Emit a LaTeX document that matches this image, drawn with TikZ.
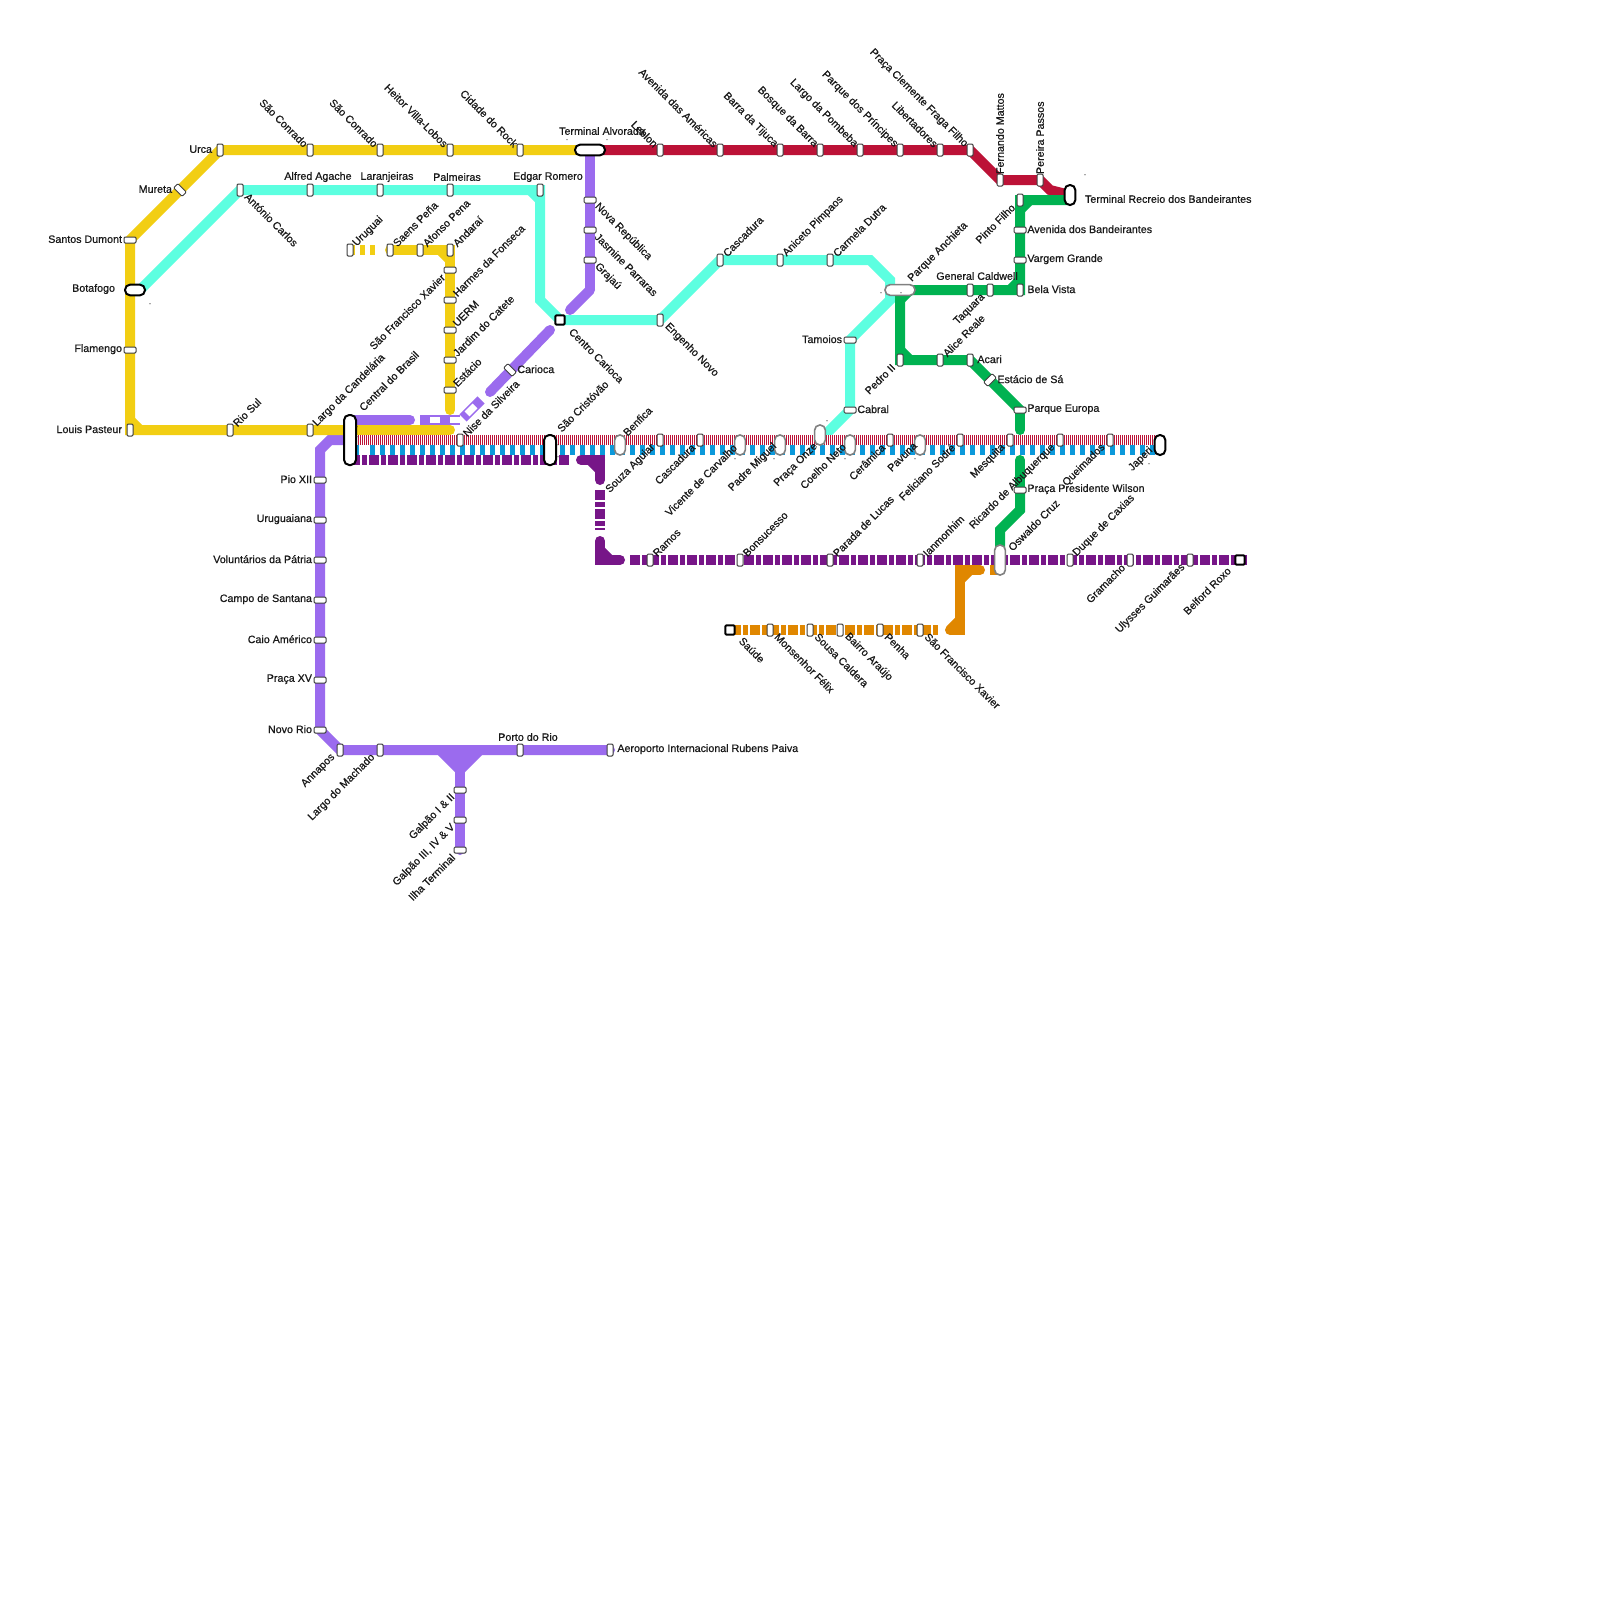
\documentclass[tikz,border=0pt]{standalone}
\usepackage{fontspec}
\newfontfamily\lf[FakeBold=0.6]{Liberation Sans}
\definecolor{cy}{HTML}{F2CE13}
\definecolor{ca}{HTML}{5CFFE0}
\definecolor{cr}{HTML}{BC1237}
\definecolor{cg}{HTML}{00B251}
\definecolor{cp}{HTML}{9B6BEE}
\definecolor{cd}{HTML}{771688}
\definecolor{co}{HTML}{E08700}
\definecolor{cb}{HTML}{0B99DB}
\pgfdeclarelayer{bg}
\pgfsetlayers{bg,main}
\tikzset{
 stn/.style={draw=black!75,fill=white,line width=.5pt,rounded corners=.6pt,inner sep=0,outer sep=0},
 tick/.style={stn,minimum width=3pt,minimum height=6pt},
 htick/.style={stn,minimum width=6pt,minimum height=3pt},
 dtick/.style={stn,minimum width=3pt,minimum height=6pt,rotate=45},
 etick/.style={stn,minimum width=3pt,minimum height=6pt,rotate=-45},
 pillg/.style={draw=black!50,line width=.8pt,fill=white,inner sep=0,outer sep=0,rounded corners=2.6pt,minimum width=5.4pt,minimum height=10pt},
 pillk/.style={pillg,draw=black,line width=1pt},
 hpillg/.style={pillg,minimum width=15pt,minimum height=5.4pt},
 hpillk/.style={pillk,minimum width=15pt,minimum height=5.4pt},
 sq/.style={draw=black,line width=1pt,fill=white,inner sep=0,outer sep=0,minimum size=4.6pt,rounded corners=.5pt},
 t/.style={font=\lf\fontsize{5.35}{6}\selectfont,inner sep=0,outer sep=0,text=black!90},
 UR/.style={t,xshift=2.4pt,yshift=2.66pt,rotate=45,anchor=west},
 UL/.style={t,xshift=-2pt,yshift=2.3pt,rotate=-45,anchor=east},
 DR/.style={t,xshift=3.3pt,yshift=-2.5pt,rotate=-45,anchor=west},
 DL/.style={t,xshift=-3.4pt,yshift=-2.9pt,rotate=45,anchor=east},
 V/.style={t,yshift=3pt,rotate=90,anchor=west},
 L/.style={t,anchor=east,xshift=-4pt,yshift=.4pt},
 R/.style={t,anchor=west,xshift=3.7pt,yshift=.4pt},
 lin/.style={line width=5pt,line cap=butt,line join=miter},
 rnd/.style={line width=5pt,line cap=round,line join=miter},
 dsh/.style={line width=5pt,dash pattern=on 5pt off 1pt on 2.5pt off 1pt},
 dotl/.style={t,anchor=base,font=\lf\fontsize{3}{3}\selectfont},
}
\newcommand\st[6]{\node[#1] (#2) at (#3,#4) {};\node[#5] (#2-t) at (#2) {#6};}
\begin{document}
\begin{tikzpicture}[x=.5pt,y=-.5pt]
\useasboundingbox (0,0) rectangle (1600,1600);
\begin{pgfonlayer}{bg}
\fill[white] (0,0) rectangle (1600,1600);
\end{pgfonlayer}
% yellow main
\st{tick}{urca}{220}{150}{L}{Urca}
\st{tick}{sc1}{310}{150}{UL}{São Conrado}
\st{tick}{sc2}{380}{150}{UL}{São Conrado}
\st{tick}{hvl}{450}{150}{UL}{Heitor Villa-Lobos}
\st{tick}{cdr}{520}{150}{UL}{Cidade do Rock}
\node[hpillk] (alv) at (590,150) {};
\node[t] (alv-t) at (602,131) {Terminal Alvorada};
\st{dtick}{mur}{180}{190}{L}{Mureta}
\st{htick}{sdu}{130}{240}{L}{Santos Dumont}
\node[hpillk,minimum width=10pt] (bot) at (135,290) {};
\node[t,anchor=east] (bot-t) at (115,289) {Botafogo};
\st{htick}{fla}{130}{350}{L}{Flamengo}
\st{tick}{lpa}{130}{430}{L}{Louis Pasteur}
\st{tick}{rsu}{230}{430}{UR}{Rio Sul}
\st{tick}{lca}{310}{430}{UR}{Largo da Candelária}
\node[pillk,minimum width=6pt,minimum height=25pt] (cen) at (350,440) {};
\node[t,rotate=45,anchor=west] (cen-t) at (361,409) {Central do Brasil};
% aqua
\st{tick}{aca}{240}{190}{DR}{António Carlos}
\node[tick] (aag) at (310,190) {};\node[t] (aag-t) at (318,177) {Alfred Agache};
\node[tick] (lar) at (380,190) {};\node[t] (lar-t) at (387,177) {Laranjeiras};
\node[tick] (pal) at (450,190) {};\node[t] (pal-t) at (457,177) {Palmeiras};
\node[tick] (edg) at (540,190) {};\node[t] (edg-t) at (548,177) {Edgar Romero};
\node[sq] (cca) at (560,320) {};
\node[t,rotate=-45,anchor=west] (cca-t) at (571,330) {Centro Carioca};
\st{tick}{eng}{660}{320}{DR}{Engenho Novo}
\st{tick}{cas}{720}{260}{UR}{Cascadura}
\st{tick}{ani}{780}{260}{UR}{Aniceto Pimpaos}
\st{tick}{car}{830}{260}{UR}{Carmela Dutra}
\node[hpillg] (pan) at (900,290) {};
\node[t,rotate=45,anchor=west] (pan-t) at (910,280) {Parque Anchieta};
\st{htick}{tam}{850}{340}{L}{Tamoios}
\st{htick}{cab}{850}{410}{R}{Cabral}
% yellow branch
\st{tick}{uru}{350}{250}{UR}{Uruguai}
\st{tick}{sae}{390}{250}{UR}{Saens Peña}
\st{tick}{afo}{420}{250}{UR}{Afonso Pena}
\st{tick}{and}{450}{250}{UR}{Andaraí}
\st{htick}{sfx}{450}{270}{DL}{São Francisco Xavier}
\st{htick}{har}{450}{300}{UR}{Harmes da Fonseca}
\st{htick}{uer}{450}{330}{UR}{UERM}
\st{htick}{jar}{450}{360}{UR}{Jardim do Catete}
\st{htick}{est}{450}{390}{UR}{Estácio}
% light purple
\st{htick}{nre}{590}{200}{DR}{Nova República}
\st{htick}{jas}{590}{230}{DR}{Jasmine Parraras}
\st{htick}{gra}{590}{260}{DR}{Grajaú}
\st{dtick}{cri}{510}{370}{R}{Carioca}
\st{htick}{pio}{320}{480}{L}{Pio XII}
\st{htick}{urg}{320}{520}{L}{Uruguaiana}
\st{htick}{vol}{320}{560}{L}{Voluntários da Pátria}
\st{htick}{cam}{320}{600}{L}{Campo de Santana}
\st{htick}{cai}{320}{640}{L}{Caio Américo}
\st{htick}{pxv}{320}{680}{L}{Praça XV}
\st{htick}{nov}{320}{730}{L}{Novo Rio}
\st{tick}{ann}{340}{750}{DL}{Annapos}
\st{tick}{lma}{380}{750}{DL}{Largo do Machado}
\node[tick] (por) at (520,750) {};\node[t] (por-t) at (528,737) {Porto do Rio};
\st{tick}{aer}{610}{750}{R}{Aeroporto Internacional Rubens Paiva}
\st{htick}{ga1}{460}{790}{DL}{Galpão I \& II}
\st{htick}{ga2}{460}{820}{DL}{Galpão III, IV \& V}
\st{htick}{ilh}{460}{850}{DL}{Ilha Terminal}
% red top
\st{tick}{leb}{660}{150}{UL}{Leblon}
\st{tick}{ave}{720}{150}{UL}{Avenida das Américas}
\st{tick}{bar}{780}{150}{UL}{Barra da Tijuca}
\st{tick}{bos}{820}{150}{UL}{Bosque da Barra}
\st{tick}{lpo}{860}{150}{UL}{Largo da Pombeba}
\st{tick}{ppr}{900}{150}{UL}{Parque dos Príncipes}
\st{tick}{lib}{940}{150}{UL}{Libertadores}
\st{tick}{pcf}{970}{150}{UL}{Praça Clemente Fraga Filho}
\st{tick}{fma}{1000}{180}{V}{Fernando Mattos}
\st{tick}{ppa}{1040}{180}{V}{Pereira Passos}
\node[pillk] (rec) at (1070,195) {};
\node[t,anchor=west] (rec-t) at (1085,199) {Terminal Recreio dos Bandeirantes};
% green
\st{tick}{pin}{1020}{200}{DL}{Pinto Filho}
\st{htick}{avb}{1020}{230}{R}{Avenida dos Bandeirantes}
\st{htick}{vgr}{1020}{260}{R}{Vargem Grande}
\st{tick}{bel}{1020}{290}{R}{Bela Vista}
\node[tick] (gca) at (970,290) {};\node[t] (gca-t) at (977,276) {General Caldwell};
\st{tick}{taq}{990}{290}{DL}{Taquara}
\st{tick}{ped}{900}{360}{DL}{Pedro II}
\st{tick}{ali}{940}{360}{UR}{Alice Reale}
\st{tick}{aca2}{970}{360}{R}{Acari}
\st{etick}{esa}{990}{380}{R}{Estácio de Sá}
\st{htick}{peu}{1020}{410}{R}{Parque Europa}
\st{htick}{ppw}{1020}{490}{R}{Praça Presidente Wilson}
% mixed row
\st{tick}{nis}{460}{440}{UR}{Nise da Silveira}
\node[pillk,minimum width=6pt,minimum height=15pt] (sao) at (550,450) {};
\node[t,rotate=45,anchor=west] (sao-t) at (559,430) {São Cristóvão};
\node[pillg] (ben) at (620,445) {};
\node[t,rotate=45,anchor=west] (ben-t) at (625,434) {Benfica};
\st{tick}{sou}{660}{440}{DL}{Souza Aguiar}
\st{tick}{csd}{700}{440}{DL}{Cascadura}
\node[pillg] (vic) at (740,445) {};\node[t,rotate=45,anchor=east] (vic-t) at (735,446) {Vicente de Carvalho};
\node[pillg] (pad) at (780,445) {};\node[t,rotate=45,anchor=east] (pad-t) at (775,445) {Padre Miguel};
\node[pillg] (pon) at (820,435) {};\node[t,rotate=45,anchor=east] (pon-t) at (816,445) {Praça Onze};
\node[pillg] (coe) at (850,445) {};\node[t,rotate=45,anchor=east] (coe-t) at (844,445) {Coelho Neto};
\st{tick}{cer}{890}{440}{DL}{Cerâmica}
\node[pillg] (pav) at (920,445) {};\node[t,rotate=45,anchor=east] (pav-t) at (915,444) {Pavuna};
\st{tick}{fel}{960}{440}{DL}{Feliciano Sodré}
\st{tick}{mes}{1010}{440}{DL}{Mesquita}
\st{tick}{ric}{1060}{440}{DL}{Ricardo de Albuquerque}
\st{tick}{que}{1110}{440}{DL}{Queimados}
\node[pillk] (jap) at (1160,445) {};\node[t,rotate=45,anchor=east] (jap-t) at (1151,449) {Japeri};
% dark purple row
\st{tick}{ram}{650}{560}{UR}{Ramos}
\st{tick}{bon}{740}{560}{UR}{Bonsucesso}
\st{tick}{pdl}{830}{560}{UR}{Parada de Lucas}
\st{tick}{ian}{920}{560}{UR}{Ianmonhim}
\node[pillg,minimum height=15pt] (osw) at (1000,560) {};
\node[t,rotate=45,anchor=west] (osw-t) at (1010,549) {Oswaldo Cruz};
\st{tick}{duq}{1070}{560}{UR}{Duque de Caxias}
\st{tick}{gcm}{1130}{560}{DL}{Gramacho}
\st{tick}{uly}{1190}{560}{DL}{Ulysses Guimarães}
\node[sq] (bro) at (1240,560) {};\node[t,rotate=45,anchor=east] (bro-t) at (1229,569) {Belford Roxo};
% orange
\node[sq] (sau) at (730,630) {};\node[t,rotate=-45,anchor=west] (sau-t) at (741,639) {Saúde};
\st{tick}{mon}{770}{630}{DR}{Monsenhor Félix}
\st{tick}{sca}{810}{630}{DR}{Sousa Caldera}
\st{tick}{bai}{840}{630}{DR}{Bairro Araújo}
\st{tick}{pen}{880}{630}{DR}{Penha}
\st{tick}{sfo}{920}{630}{DR}{São Francisco Xavier}
% stray dots
\foreach \n/\x/\y in {a/150/304,b/567/140,c/607/140,d/1085/175,e/881/293,f/901/293,g/735/459,h/774/459,i/827/421,j/845/459,k/915/459,l/1149/464,m/357/427,n/357/437,o/558/445,p/558/457}
 \node[dotl] (dot\n) at (\x,\y) {.};
\coordinate (a0) at (140,290);
\coordinate (a1) at (130,420);\coordinate (a2) at (140,430);
\coordinate (a3) at (815,445);
\coordinate (y1) at (440,250);\coordinate (y2) at (450,260);\coordinate (ye) at (450,410);\coordinate (yf) at (450,430);
\coordinate (yd1) at (375,250);\coordinate (yc) at (350,430);
\coordinate (e1) at (530,190);\coordinate (e2) at (540,200);\coordinate (e3) at (540,300);
\coordinate (k1) at (870,260);\coordinate (k2) at (890,280);\coordinate (k3) at (890,300);
\coordinate (g1) at (590,290);\coordinate (g2) at (570,310);
\coordinate (g3) at (550,330);\coordinate (g4) at (490,392);
\coordinate (p1) at (410,420);\coordinate (p0) at (350,420);
\coordinate (p2) at (330,440);\coordinate (p3) at (320,450);\coordinate (p4) at (345,440);
\coordinate (w1) at (438,755);\coordinate (w2) at (460,777);\coordinate (w3) at (482,755);\coordinate (wt) at (460,750);
\coordinate (r1) at (1050,190);
\coordinate (n1) at (1030,200);\coordinate (n2) at (1020,210);\coordinate (n3) at (1020,280);\coordinate (n4) at (1010,290);
\coordinate (n5) at (910,290);\coordinate (n6) at (900,300);\coordinate (n7) at (900,290);\coordinate (n8) at (900,350);\coordinate (n9) at (910,360);
\coordinate (m1) at (1020,430);\coordinate (m2) at (1020,460);\coordinate (m3) at (1020,510);\coordinate (m4) at (1000,530);
\coordinate (d1) at (350,460);\coordinate (d2) at (570,460);\coordinate (d3) at (581,460);\coordinate (d4) at (600,460);\coordinate (d5) at (600,480);\coordinate (d6) at (590,460);\coordinate (d7) at (600,470);
\coordinate (v1) at (600,490);\coordinate (v2) at (600,530);
\coordinate (v3) at (600,541);\coordinate (v4) at (600,560);\coordinate (v5) at (620,560);\coordinate (v6) at (600,550);\coordinate (v7) at (610,560);
\coordinate (h1) at (630,560);\coordinate (h2) at (1247,560);
\coordinate (o1) at (731,630);\coordinate (o2) at (940,630);
\coordinate (o4) at (960,630);\coordinate (o5) at (960,570);\coordinate (o6) at (980,570);\coordinate (o7) at (960,620);\coordinate (o8) at (950,630);\coordinate (o9) at (960,580);\coordinate (o10) at (970,570);
\coordinate (o11) at (990,570);
\coordinate (rs) at (350,440);\coordinate (re) at (1160,440);
\coordinate (bs) at (370,450);\coordinate (be) at (1160,450);\coordinate (bx0) at (357,450);\coordinate (bx1) at (359,450);
\coordinate (q0) at (420,420);\coordinate (q1) at (460,420);
\coordinate (q2) at (430,420);\coordinate (q3) at (440,420);\coordinate (q4) at (450,420);
\coordinate (q5) at (463,418);\coordinate (q6) at (481,400);\coordinate (q7) at (467,414);\coordinate (q8) at (475,406);
\begin{pgfonlayer}{bg}
% aqua
\draw[lin,ca] (a0) -- (aca.center) -- (aag.center) -- (lar.center) -- (pal.center) -- (edg.center) -- (e2) -- (e3) -- (cca.center) -- (eng.center) -- (cas.center) -- (ani.center) -- (car.center) -- (k1) -- (k2) -- (k3) -- (tam.center) -- (cab.center) -- (a3);
\draw[lin,ca] (e1) -- (e2);
% light purple
\draw[lin,cp] (alv.center) -- (nre.center) -- (jas.center) -- (gra.center) -- (g1);
\draw[rnd,cp] (g1) -- (g2);
\draw[rnd,cp] (g3) -- (g4);
\draw[rnd,cp] (p1) -- (p0);
\draw[lin,cp] (q0) -- (q1);
\draw[white,line width=3.4pt] (q2) -- (q3);
\draw[white,line width=3.4pt] (q4) -- (q1);
\draw[lin,cp] (q5) -- (q6);
\draw[white,line width=3.4pt] (q7) -- (q8);
\draw[rnd,cp] (p4) -- (p2) -- (p3) -- (pio.center) -- (urg.center) -- (vol.center) -- (cam.center) -- (cai.center) -- (pxv.center) -- (nov.center) -- (ann.center) -- (lma.center) -- (por.center) -- (aer.center);
\draw[lin,cp] (wt) -- (ga1.center) -- (ga2.center) -- (ilh.center);
\fill[cp] (w1) -- (w2) -- (w3) -- cycle;
\draw[rnd,cp] (ga2.center) -- (ilh.center);
% yellow
\draw[lin,cy] (alv.center) -- (cdr.center) -- (hvl.center) -- (sc2.center) -- (sc1.center) -- (urca.center) -- (mur.center) -- (sdu.center) -- (fla.center) -- (lpa.center) -- (rsu.center) -- (lca.center) -- (yc);
\draw[lin,cy] (a1) -- (a2);
\draw[rnd,cy] (yc) -- (yf);
\draw[cy,line width=5pt,dash pattern=on 2.5pt off 2.5pt] (uru.center) -- (yd1);
\draw[rnd,cy] (sae.center) -- (afo.center) -- (y1);
\draw[lin,cy] (y1) -- (and.center) -- (y2);
\draw[lin,cy] (y1) -- (y2);
\draw[rnd,cy] (y2) -- (sfx.center) -- (har.center) -- (uer.center) -- (jar.center) -- (est.center) -- (ye);
% red
\draw[lin,cr] (alv.center) -- (leb.center) -- (ave.center) -- (bar.center) -- (bos.center) -- (lpo.center) -- (ppr.center) -- (lib.center) -- (pcf.center) -- (fma.center) -- (ppa.center) -- (r1) -- (rec.center);
\draw[white,line width=5pt] (rs) -- (re);
\draw[cr,line width=5pt,dash pattern=on .7pt off .3pt] (rs) -- (re);
% blue
\draw[white,line width=5pt] (bx0) -- (be);
\draw[cb,line width=5pt] (bx0) -- (bx1);
\draw[cb,line width=5pt,dash pattern=on 2.5pt off 2.5pt] (bs) -- (be);
% dark purple
\draw[dsh,cd] (d1) -- (d2);
\draw[rnd,cd] (d3) -- (d4);
\draw[lin,cd] (d3) -- (d4) -- (d7);
\draw[lin,cd] (d6) -- (d7);
\draw[rnd,cd] (d7) -- (d5);
\draw[dsh,cd] (v1) -- (v2);
\draw[rnd,cd] (v3) -- (v6);
\draw[lin,cd] (v6) -- (v4) -- (v7);
\draw[lin,cd] (v6) -- (v7);
\draw[rnd,cd] (v7) -- (v5);
\draw[dsh,cd] (h1) -- (h2);
% orange
\draw[dsh,co] (o1) -- (o2);
\draw[rnd,co] (o8) -- (o7);
\draw[lin,co] (o8) -- (o4) -- (o5) -- (o10);
\draw[lin,co] (o9) -- (o10);
\draw[rnd,co] (o10) -- (o6);
\draw[lin,co] (o11) -- (osw.center |- o11);
% green
\draw[lin,cg] (rec.center |- n1) -- (n1) -- (pin.center) -- (n2) -- (avb.center) -- (vgr.center) -- (bel.center) -- (taq.center) -- (gca.center) -- (n7) -- (ped.center) -- (ali.center) -- (aca2.center) -- (esa.center) -- (peu.center);
\draw[lin,cg] (n1) -- (n2);
\draw[lin,cg] (n3) -- (n4);
\draw[lin,cg] (n5) -- (n6);
\draw[lin,cg] (n8) -- (n9);
\draw[rnd,cg] (peu.center) -- (m1);
\draw[rnd,cg] (m2) -- (m3);
\draw[lin,cg] (ppw.center) -- (m3) -- (m4) -- (osw.center);
\end{pgfonlayer}
\end{tikzpicture}
\end{document}
